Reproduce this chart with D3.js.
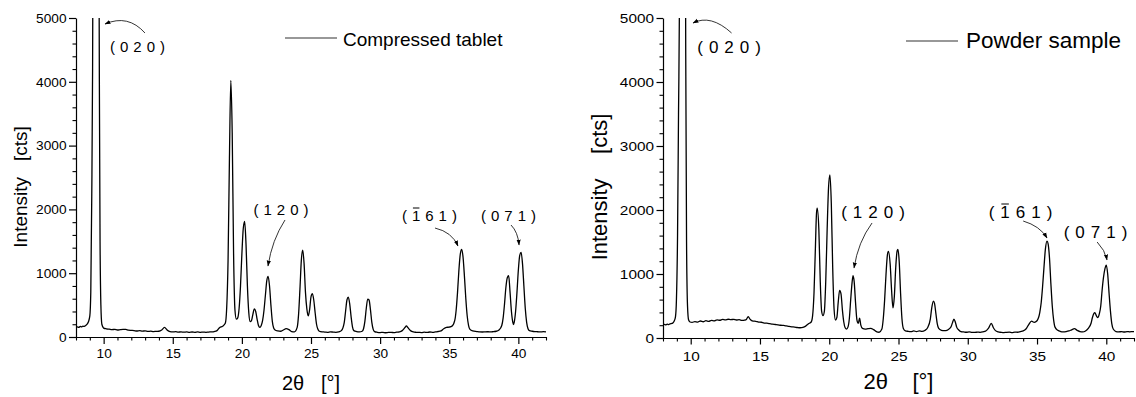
<!DOCTYPE html>
<html><head><meta charset="utf-8">
<script src="https://cdn.jsdelivr.net/npm/d3@7"></script>
<style>
body{margin:0;background:#fff}
svg{display:block}
text{font-family:"Liberation Sans",Arial,Helvetica,sans-serif;fill:#000}
</style>
</head><body>
<svg id="chart" width="1136" height="397"></svg>
<script>
// ---------- data ----------
const xMajorTicks = [10, 15, 20, 25, 30, 35, 40];
const yMajorTicks = [0, 1000, 2000, 3000, 4000, 5000];
const xDomain = [8, 42];
const yDomain = [0, 5000];

// Compressed tablet: [2theta, counts]
const tablet = [
[8.0,150],[8.1,160],[8.2,150],[8.3,165],[8.4,158],[8.5,170],[8.6,165],[8.7,180],[8.8,200],[8.9,240],
[9.0,330],[9.07,700],[9.14,2200],[9.2,4200],[9.24,7000],[9.45,40000],[9.65,7000],[9.69,4000],[9.74,1500],[9.8,500],[9.87,200],
[10.0,140],[10.2,128],[10.4,122],[10.6,115],[10.8,120],[11.0,110],[11.2,116],[11.4,120],[11.6,118],[11.8,108],
[12.0,104],[12.2,100],[12.4,94],[12.6,100],[12.8,92],[13.0,96],[13.2,88],[13.4,91],[13.6,85],[13.8,88],
[14.0,90],[14.2,110],[14.4,150],[14.6,108],[14.8,85],[15.0,80],[15.2,83],[15.4,77],[15.6,80],[15.8,75],
[16.0,80],[16.2,74],[16.4,78],[16.6,74],[16.8,79],[17.0,73],[17.2,77],[17.4,74],[17.6,78],[17.8,80],
[18.0,86],[18.2,100],[18.4,150],[18.6,168],[18.8,215],[18.9,450],[19.0,1200],[19.1,2800],[19.2,4020],[19.3,3200],
[19.4,1300],[19.5,420],[19.6,280],[19.7,300],[19.8,450],[19.9,800],[20.0,1300],[20.1,1700],[20.2,1810],[20.3,1450],
[20.4,800],[20.5,380],[20.6,240],[20.7,260],[20.8,360],[20.9,440],[21.0,400],[21.1,280],[21.2,180],[21.3,150],
[21.4,180],[21.5,260],[21.6,420],[21.7,650],[21.8,880],[21.9,950],[22.0,800],[22.1,500],[22.2,250],[22.3,140],
[22.4,110],[22.6,95],[22.8,90],[23.0,110],[23.2,130],[23.4,115],[23.6,85],[23.8,80],[24.0,150],[24.1,350],
[24.2,750],[24.3,1200],[24.4,1360],[24.5,1150],[24.6,700],[24.7,440],[24.8,330],[24.9,430],[25.0,630],[25.1,680],
[25.2,580],[25.3,380],[25.4,200],[25.5,120],[25.6,90],[25.8,80],[26.0,78],[26.2,74],[26.4,80],[26.6,77],
[26.8,74],[27.0,80],[27.2,100],[27.4,220],[27.5,400],[27.6,580],[27.7,625],[27.8,520],[27.9,320],[28.0,160],
[28.1,100],[28.3,85],[28.5,80],[28.7,90],[28.8,130],[28.9,250],[29.0,450],[29.1,595],[29.2,580],[29.3,430],
[29.4,230],[29.5,120],[29.6,85],[29.8,74],[30.0,70],[30.2,73],[30.4,67],[30.6,71],[30.8,72],[31.0,69],
[31.2,75],[31.4,80],[31.6,100],[31.8,150],[31.9,175],[32.0,150],[32.2,100],[32.4,80],[32.6,74],[32.8,72],
[33.0,70],[33.2,76],[33.4,71],[33.6,78],[33.8,74],[34.0,80],[34.2,86],[34.4,95],[34.6,130],[34.8,150],
[35.0,155],[35.2,170],[35.4,260],[35.5,420],[35.6,700],[35.7,1050],[35.8,1300],[35.9,1375],[36.0,1250],[36.1,950],
[36.2,600],[36.3,330],[36.4,180],[36.5,120],[36.7,95],[37.0,85],[37.2,79],[37.4,78],[37.6,81],[37.8,82],
[38.0,79],[38.2,85],[38.4,90],[38.6,110],[38.8,180],[38.9,300],[39.0,520],[39.1,780],[39.2,930],[39.3,960],
[39.4,700],[39.5,400],[39.6,230],[39.65,195],[39.7,230],[39.8,400],[39.9,700],[40.0,1050],[40.1,1280],[40.2,1325],
[40.3,1150],[40.4,800],[40.5,450],[40.6,230],[40.7,130],[40.8,100],[41.0,90],[41.2,84],[41.4,82],[41.6,79],
[41.8,85],[42.0,80]
];

// Powder sample: [2theta, counts]
const powder = [
[8.0,200],[8.1,212],[8.2,204],[8.3,216],[8.4,209],[8.5,220],[8.6,226],[8.7,232],[8.8,260],[8.9,330],
[8.97,600],[9.05,1600],[9.12,3500],[9.2,5600],[9.24,8000],[9.42,40000],[9.6,8000],[9.64,4500],[9.7,1500],[9.77,500],[9.85,280],[9.95,250],
[10.1,244],[10.3,256],[10.5,249],[10.7,266],[10.9,254],[11.1,270],[11.3,261],[11.5,276],[11.7,269],[11.9,283],
[12.1,277],[12.3,291],[12.5,284],[12.7,293],[12.9,287],[13.1,291],[13.3,281],[13.5,286],[13.7,274],[13.9,280],
[14.0,286],[14.15,332],[14.3,290],[14.5,265],[14.7,261],[14.9,249],[15.1,246],[15.3,234],[15.5,231],[15.7,224],
[15.9,216],[16.1,211],[16.3,206],[16.5,199],[16.7,196],[16.9,189],[17.1,181],[17.3,175],[17.5,171],[17.7,164],
[17.9,160],[18.1,166],[18.3,186],[18.5,222],[18.7,250],[18.8,350],[18.9,700],[19.0,1400],[19.08,1950],[19.13,2030],
[19.25,1700],[19.35,900],[19.45,420],[19.55,350],[19.65,420],[19.75,900],[19.85,1700],[19.95,2350],[20.05,2550],[20.15,2100],
[20.25,1100],[20.35,450],[20.45,280],[20.55,320],[20.65,560],[20.75,745],[20.85,690],[20.95,440],[21.05,250],[21.15,160],
[21.25,140],[21.35,170],[21.45,300],[21.55,600],[21.65,870],[21.72,975],[21.8,880],[21.9,550],[22.0,280],[22.1,230],
[22.19,310],[22.28,200],[22.4,150],[22.6,140],[22.8,146],[23.0,150],[23.2,130],[23.4,100],[23.6,90],[23.8,140],
[23.9,300],[24.0,600],[24.1,1000],[24.2,1300],[24.27,1355],[24.4,1150],[24.5,750],[24.6,470],[24.7,650],[24.8,1100],
[24.9,1360],[24.96,1385],[25.05,1200],[25.15,700],[25.25,300],[25.35,150],[25.5,112],[25.7,104],[25.9,100],[26.1,110],
[26.3,101],[26.5,110],[26.7,104],[26.9,118],[27.1,160],[27.3,300],[27.4,470],[27.52,575],[27.6,540],[27.7,380],
[27.8,220],[27.9,150],[28.1,120],[28.3,114],[28.5,120],[28.7,150],[28.8,180],[28.9,240],[29.0,295],[29.1,250],
[29.2,170],[29.35,125],[29.5,100],[29.7,95],[29.9,90],[30.1,96],[30.3,89],[30.5,87],[30.7,93],[30.9,88],
[31.1,96],[31.3,110],[31.5,155],[31.7,228],[31.85,160],[32.0,115],[32.2,95],[32.4,89],[32.6,85],[32.8,89],
[33.0,91],[33.2,85],[33.4,92],[33.6,90],[33.8,100],[34.0,110],[34.2,140],[34.4,210],[34.6,265],[34.8,245],
[35.0,270],[35.2,400],[35.3,550],[35.4,800],[35.5,1100],[35.6,1380],[35.72,1515],[35.8,1470],[35.9,1250],[36.0,850],
[36.1,500],[36.2,280],[36.3,170],[36.5,120],[36.7,101],[36.9,95],[37.1,100],[37.3,110],[37.5,128],[37.7,145],
[37.9,120],[38.1,100],[38.3,95],[38.5,110],[38.7,150],[38.9,230],[39.0,320],[39.1,380],[39.17,395],[39.3,340],
[39.4,320],[39.5,380],[39.6,500],[39.7,750],[39.8,950],[39.9,1080],[40.0,1140],[40.1,1000],[40.2,700],[40.3,420],
[40.4,220],[40.5,140],[40.7,101],[40.9,95],[41.1,100],[41.3,94],[41.5,101],[41.7,96],[41.9,100],[42.0,98]
];

// Annotations in data units: label, overbar char index, text anchor point, arrow start, control, end
const tabletNotes = [
  {label:"(020)", bar:-1, t:[12.45,4472], a:[[12.99,4765],[11.76,5063],[10.10,4906]]},
  {label:"(120)", bar:-1, t:[22.83,1912], a:[[23.12,1834],[22.18,1520],[21.89,1113]]},
  {label:"(161)", bar:1,  t:[33.57,1818], a:[[33.97,1708],[35.20,1646],[35.63,1426]]},
  {label:"(071)", bar:-1, t:[39.29,1818], a:[[39.47,1755],[39.97,1646],[40.05,1442]]}
];
const powderNotes = [
  {label:"(020)", bar:-1, t:[12.77,4458], a:[[12.95,4766],[11.44,5063],[10.17,4922]]},
  {label:"(120)", bar:-1, t:[23.16,1875], a:[[23.09,1797],[22.08,1500],[21.79,1094]]},
  {label:"(161)", bar:1,  t:[33.81,1875], a:[[34.00,1828],[35.21,1750],[35.72,1563]]},
  {label:"(071)", bar:-1, t:[39.22,1563], a:[[39.34,1500],[39.91,1375],[40.05,1219]]}
];

const legendLabels = ["Compressed tablet", "Powder sample"];
const yTitle = "Intensity   [cts]";
const yTitle2 = "Intensity    [cts]";
const xTitle = "2\u03B8   [\u00B0]";
const xTitle2 = "2\u03B8    [\u00B0]";

// ---------- layout / style ----------
const panels = [
  {data: tablet, notes: tabletNotes, legend: legendLabels[0], ytitle: yTitle, xtitle: xTitle,
   x0:76, x1:546, y0:337, y1:18, tickFont:12, tickSX:1.14, xTickBase:358, yTickGap:9.5, majorLen:7, minorLen:3.5,
   yTitleX:27, yTitleY:187, yTitleFont:19, xTitleY:390, xTitleFont:20,
   legX0:285, legX1:337, legY:38, legTextX:343, legTextY:46, legFont:19,
   noteFont:15, noteLS:5.0},
  {data: powder, notes: powderNotes, legend: legendLabels[1], ytitle: yTitle2, xtitle: xTitle2,
   x0:663, x1:1134, y0:338, y1:18, tickFont:12, tickSX:1.28, xTickBase:360.5, yTickGap:9, majorLen:6.5, minorLen:3.5,
   yTitleX:607, yTitleY:187, yTitleFont:22, xTitleY:389, xTitleFont:22,
   legX0:906, legX1:958, legY:41, legTextX:966, legTextY:48.3, legFont:22.5,
   noteFont:17, noteLS:6.0}
];

const svg = d3.select("#chart");
const defs = svg.append("defs");
defs.append("marker").attr("id","arr").attr("viewBox","0 0 10 10").attr("refX",9).attr("refY",5)
  .attr("markerWidth",6).attr("markerHeight",6).attr("markerUnits","userSpaceOnUse").attr("orient","auto")
  .append("path").attr("d","M0,1.5 L10,5 L0,8.5 Z").attr("fill","#000");

panels.forEach((p, i) => {
  const x = d3.scaleLinear().domain(xDomain).range([p.x0, p.x1]);
  const y = d3.scaleLinear().domain(yDomain).range([p.y0, p.y1]);
  const g = svg.append("g");

  defs.append("clipPath").attr("id","clip"+i).append("rect")
    .attr("x", p.x0).attr("y", p.y1).attr("width", p.x1 - p.x0).attr("height", p.y0 - p.y1);

  // minor ticks
  const xMinor = d3.range(8, 42.001, 1).filter(v => !xMajorTicks.includes(v));
  const yMinor = d3.range(0, 5000.1, 200).filter(v => !yMajorTicks.includes(v));
  g.append("g").attr("transform", `translate(0,${p.y0})`)
    .call(d3.axisBottom(x).tickValues(xMinor).tickSize(p.minorLen).tickFormat(""))
    .call(s => s.select(".domain").remove())
    .selectAll("line").attr("stroke","#000").attr("stroke-width",1.1);
  g.append("g").attr("transform", `translate(${p.x0},0)`)
    .call(d3.axisLeft(y).tickValues(yMinor).tickSize(p.minorLen).tickFormat(""))
    .call(s => s.select(".domain").remove())
    .selectAll("line").attr("stroke","#000").attr("stroke-width",1.1);

  // major axes
  const gx = g.append("g").attr("transform", `translate(0,${p.y0})`)
    .call(d3.axisBottom(x).tickValues(xMajorTicks).tickSize(p.majorLen).tickSizeOuter(0).tickFormat(d3.format("d")));
  const gy = g.append("g").attr("transform", `translate(${p.x0},0)`)
    .call(d3.axisLeft(y).tickValues(yMajorTicks).tickSize(p.majorLen).tickSizeOuter(0).tickFormat(d3.format("d")));
  [gx, gy].forEach(a => {
    a.selectAll("path,line").attr("stroke","#000").attr("stroke-width",1.2);
    a.attr("font-family", null).attr("font-size", null);
  });
  gx.selectAll("text").attr("y", null).attr("dy", null)
    .attr("font-size", p.tickFont)
    .attr("transform", `translate(0,${p.xTickBase - p.y0}) scale(${p.tickSX},1)`);
  gy.selectAll("text").attr("x", null).attr("dy", "0.35em")
    .attr("font-size", p.tickFont)
    .attr("transform", `translate(${-p.yTickGap},0) scale(${p.tickSX},1)`);

  // series line
  const line = d3.line().x(d => x(d[0])).y(d => y(d[1])).curve(d3.curveMonotoneX);
  g.append("path").datum(p.data)
    .attr("clip-path", `url(#clip${i})`)
    .attr("fill","none").attr("stroke","#000").attr("stroke-width",1.3).attr("stroke-linejoin","round")
    .attr("d", line);

  // axis titles
  g.append("text").attr("transform", `translate(${p.yTitleX},${p.yTitleY}) rotate(-90)`)
    .attr("text-anchor","middle").attr("font-size", p.yTitleFont).style("white-space","pre")
    .text(p.ytitle);
  g.append("text").attr("x", (p.x0 + p.x1) / 2).attr("y", p.xTitleY)
    .attr("text-anchor","middle").attr("font-size", p.xTitleFont).style("white-space","pre")
    .text(p.xtitle);

  // legend
  g.append("line").attr("x1", p.legX0).attr("x2", p.legX1).attr("y1", p.legY).attr("y2", p.legY)
    .attr("stroke","#333").attr("stroke-width",1.1);
  g.append("text").attr("x", p.legTextX).attr("y", p.legTextY).attr("font-size", p.legFont).text(p.legend);

  // annotations
  p.notes.forEach(n => {
    const t = g.append("text").attr("x", x(n.t[0]) + p.noteLS / 2).attr("y", y(n.t[1]))
      .attr("text-anchor","middle").attr("font-size", p.noteFont)
      .attr("letter-spacing", p.noteLS).text(n.label);
    if (n.bar >= 0) {
      const node = t.node();
      const ext = node.getExtentOfChar(n.bar);
      const yb = ext.y + 1;
      g.append("line").attr("x1", ext.x + 1).attr("x2", ext.x + p.noteFont * 0.5)
        .attr("y1", yb).attr("y2", yb).attr("stroke","#000").attr("stroke-width",1);
    }
    const [s, c, e] = n.a;
    g.append("path")
      .attr("d", `M${x(s[0])},${y(s[1])} Q${x(c[0])},${y(c[1])} ${x(e[0])},${y(e[1])}`)
      .attr("fill","none").attr("stroke","#000").attr("stroke-width",0.8)
      .attr("marker-end","url(#arr)");
  });
});
</script>
</body></html>
